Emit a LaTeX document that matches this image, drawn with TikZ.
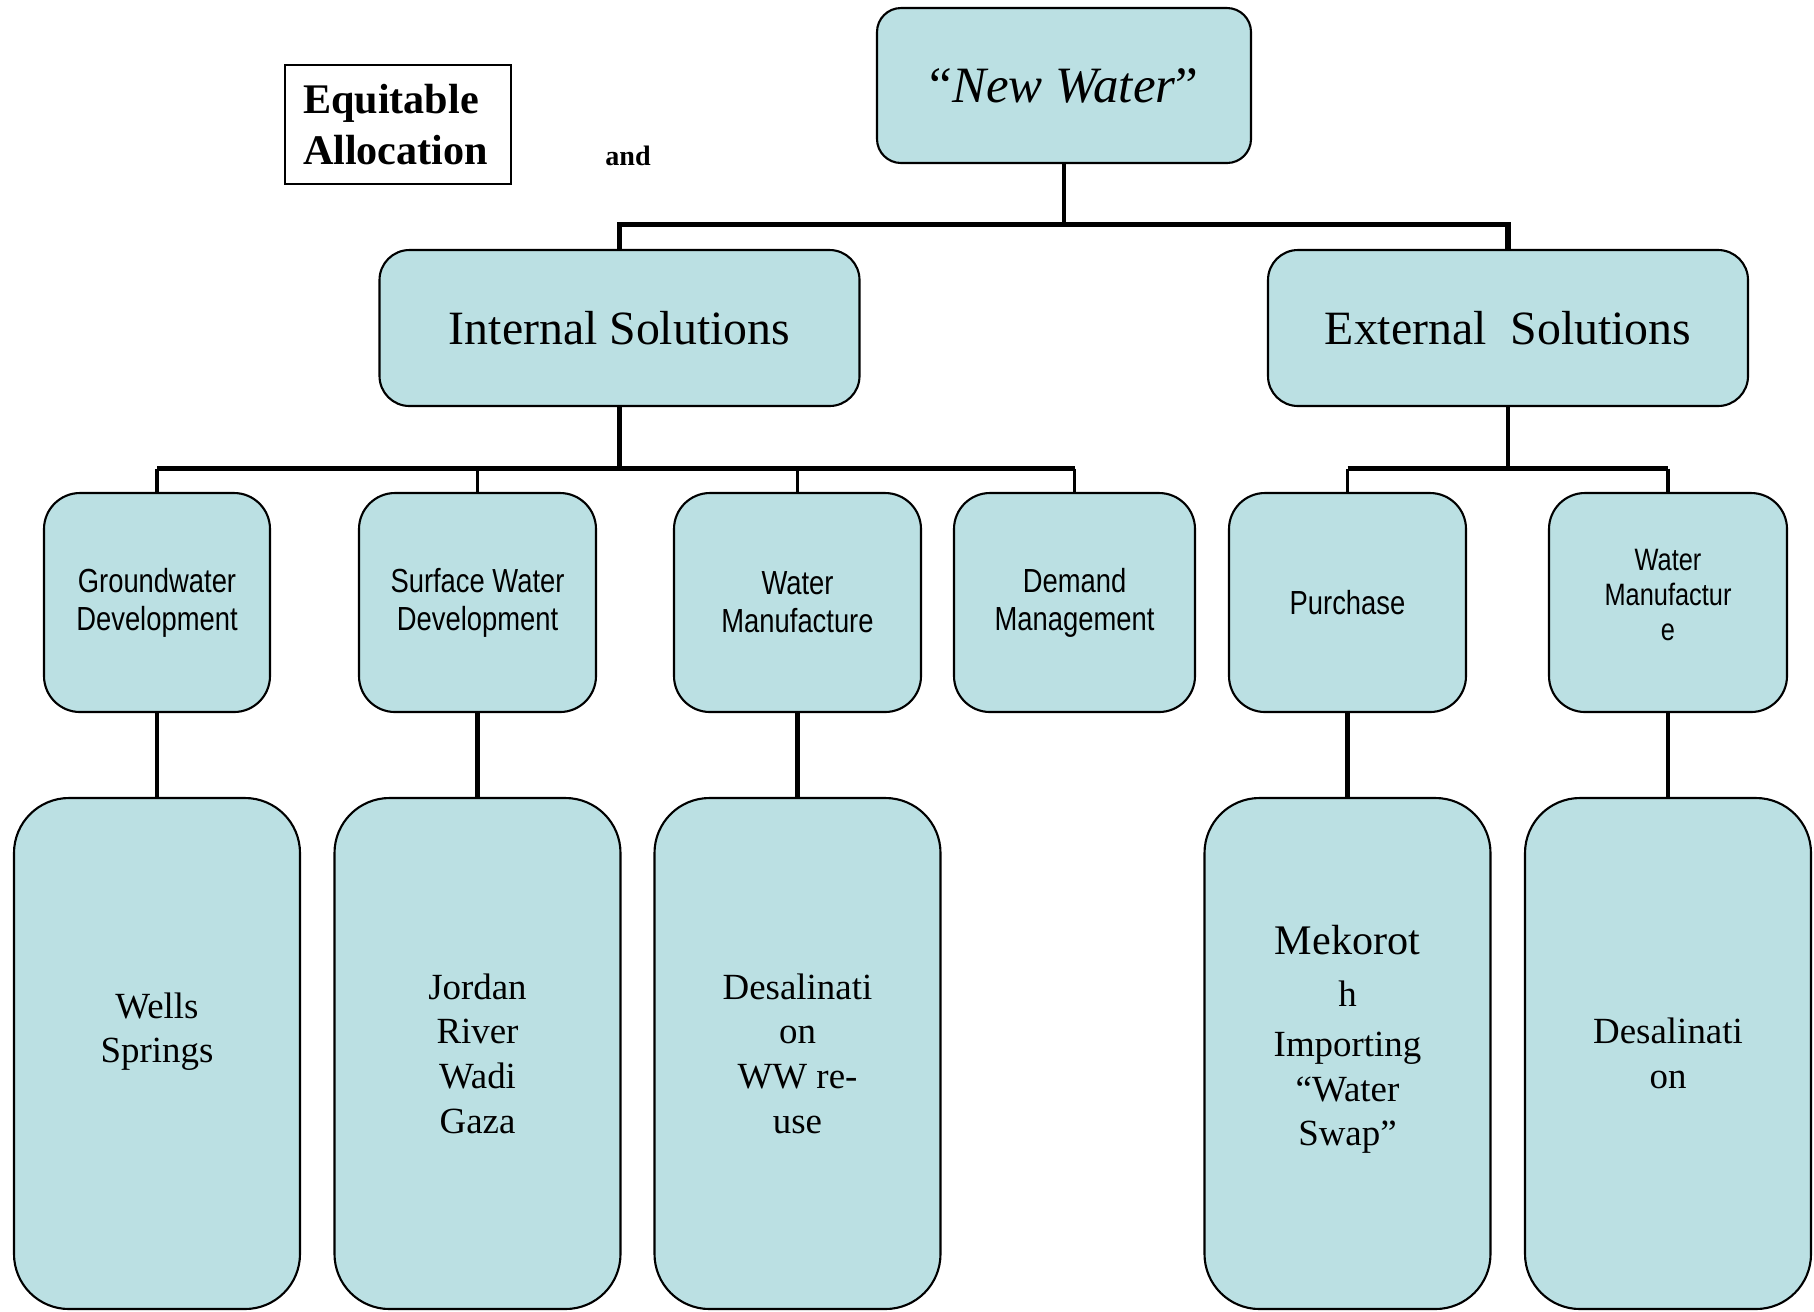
\documentclass[tikz,border=0pt]{standalone}
\usepackage{fontspec}
\usepackage{xcolor}
\usepackage{tikz}
\setmainfont{Liberation Serif}
\newfontfamily\narrowsans[FakeStretch=0.82]{Liberation Sans}
\definecolor{boxfill}{RGB}{187,224,227}

\begin{document}
\begin{tikzpicture}[
    x=0.1mm, y=-0.1mm,
    tbox/.style={
        rectangle,
        draw,
        line width=0.6pt,
        fill=boxfill,
        inner sep=0pt,
        align=center
    },
    topbox/.style={tbox, minimum width=37.4mm, minimum height=15.5mm, rounded corners=2.4mm,
        font=\fontsize{14.5}{17}\selectfont},
    solbox/.style={tbox, minimum width=48mm, minimum height=15.6mm, rounded corners=3mm,
        font=\fontsize{13.6}{16}\selectfont},
    subbox/.style={tbox, minimum height=21.9mm, rounded corners=3.6mm,
        font=\narrowsans\fontsize{9.5}{10.8}\selectfont},
    leafbox/.style={tbox, minimum width=28.6mm, minimum height=51.1mm, rounded corners=5.5mm,
        font=\fontsize{10.5}{12.7}\selectfont},
    bus/.style={line width=1.5pt},
    trunk/.style={line width=1.2pt},
    drop/.style={line width=1pt}
]
\useasboundingbox (0,0) rectangle (1814,1311);

\node[draw, line width=0.8pt, minimum width=22.6mm, minimum height=11.9mm, text width=19mm,
      inner xsep=1.8mm, align=left, font=\bfseries\fontsize{12}{14.5}\selectfont]
      (equitable) at (398,124.5) {Equitable\\Allocation};
\node[font=\bfseries\fontsize{8}{10}\selectfont] (andlbl) at (628,156) {and};

\node[topbox] (newwater) at (1064,85.5) {“\textit{New Water}”};

\node[solbox] (internal) at (619.5,328) {Internal Solutions};
\node[solbox] (external) at (1508,328) {External~~Solutions};

\node[subbox, minimum width=22.6mm] (ground) at (157,602.5) {Groundwater\\Development};
\node[subbox, minimum width=23.7mm] (surface) at (477.5,602.5) {Surface Water\\Development};
\node[subbox, minimum width=24.7mm] (manuf) at (797.5,602.5) {Water\\Manufacture};
\node[subbox, minimum width=24.1mm] (demand) at (1074.5,602.5) {Demand\\Management};
\node[subbox, minimum width=23.7mm] (purchase) at (1347.5,602.5) {Purchase};
\node[subbox, minimum width=23.8mm, font=\narrowsans\fontsize{8.8}{10}\selectfont,
      text depth=1.6mm] (extmanuf) at (1668,602.5) {Water\\Manufactur\\e};

\node[leafbox, text depth=5.2mm] (wells) at (157,1053.5) {Wells\\Springs};
\node[leafbox] (jordan) at (477.5,1053.5) {Jordan\\River\\Wadi\\Gaza};
\node[leafbox] (desal) at (797.5,1053.5) {Desalinati\\on\\WW re-\\use};
\node[leafbox, text depth=3.6mm] (mekoroth) at (1347.5,1053.5)
      {\fontsize{12}{12.8}\selectfont Mekorot\\[2.2pt]h\\[1.5pt]\fontsize{10.5}{12.8}\selectfont Importing\\“Water\\Swap”};
\node[leafbox] (extdesal) at (1668,1053.5) {Desalinati\\on};

% bus points
\coordinate (topbus) at (1064,224.5);
\coordinate (intbus) at (619.5,468.5);
\coordinate (extbus) at (1508,468.5);

\draw[trunk] (newwater.south) -- (topbus);
\draw[bus] (topbus) -| (internal.north);
\draw[bus] (topbus) -| (external.north);

\draw[trunk] (internal.south) -- (intbus);
\draw[bus] (ground.north |- intbus) -- (demand.north |- intbus);
\draw[drop] (ground.north |- intbus) -- (ground.north);
\draw[drop] (surface.north |- intbus) -- (surface.north);
\draw[drop] (manuf.north |- intbus) -- (manuf.north);
\draw[drop] (demand.north |- intbus) -- (demand.north);

\draw[trunk] (external.south) -- (extbus);
\draw[bus] (purchase.north |- extbus) -- (extmanuf.north |- extbus);
\draw[drop] (purchase.north |- extbus) -- (purchase.north);
\draw[drop] (extmanuf.north |- extbus) -- (extmanuf.north);

\draw[trunk] (ground) -- (wells);
\draw[trunk] (surface) -- (jordan);
\draw[trunk] (manuf) -- (desal);
\draw[trunk] (purchase) -- (mekoroth);
\draw[trunk] (extmanuf) -- (extdesal);

\end{tikzpicture}
\end{document}
